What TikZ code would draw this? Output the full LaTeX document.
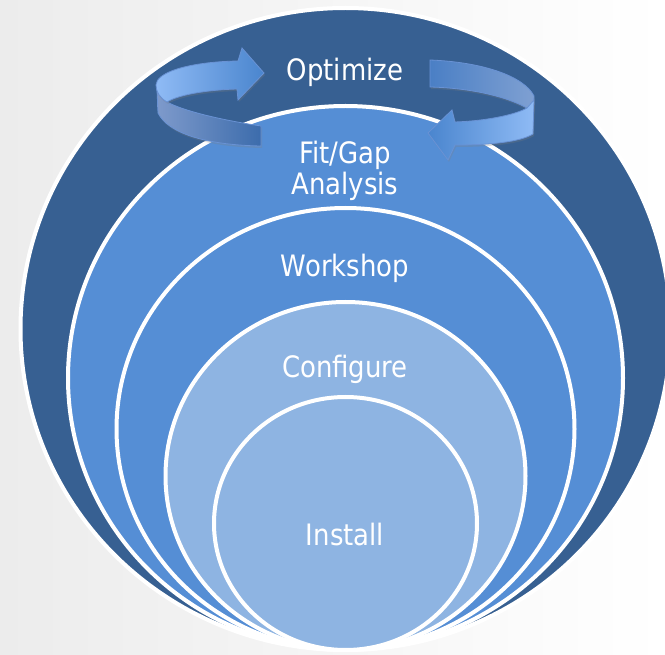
\documentclass[tikz,border=0pt]{standalone}
\usepackage{fontspec}
\setmainfont{DejaVu Sans}[FakeStretch=0.88]
\usetikzlibrary{shadows}
\definecolor{ringdark}{RGB}{55,96,146}
\definecolor{ringmid}{RGB}{85,142,213}
\definecolor{ringlight}{RGB}{142,180,226}
\definecolor{bandlight}{RGB}{143,187,245}
\definecolor{bandmid}{RGB}{74,133,206}
\definecolor{bandgrey}{RGB}{126,154,203}
\definecolor{banddark}{RGB}{60,108,172}
\definecolor{bandback}{RGB}{74,127,197}
\definecolor{bandfade}{RGB}{127,160,210}
\definecolor{bandedge}{RGB}{105,146,212}
\definecolor{paper}{RGB}{236,236,236}
\begin{document}
\begin{tikzpicture}[x=1pt,y=-1pt,
	ring/.style={draw=white,line width=4pt},
	ringtext/.style={text=white,font=\fontsize{29.5}{31}\selectfont,align=center},
	band/.style={draw=bandedge,line width=0.8pt,drop shadow={opacity=0.25,shadow xshift=1pt,shadow yshift=-2pt}}]
	\useasboundingbox (0,0) rectangle (665,655);
	\clip (0,0) rectangle (665,655);
	\fill[left color=paper,right color=white] (0,0) rectangle (665,655);
	\draw[ring,fill=ringdark] (345.5,329) ellipse [x radius=325pt,y radius=321pt];
	\draw[ring,fill=ringmid] (345.5,378) ellipse [x radius=277.5pt,y radius=272pt];
	\draw[ring,fill=ringmid] (345.5,429) ellipse [x radius=229pt,y radius=221pt];
	\draw[ring,fill=ringlight] (345.5,476) ellipse [x radius=180pt,y radius=174pt];
	\draw[ring,fill=ringlight] (345.5,523.5) ellipse [x radius=131.5pt,y radius=126.5pt];
	\node[ringtext,anchor=base] (opt) at (345,81) {Optimize};
	\node[ringtext] (fit) at (345,171) {Fit/Gap\\Analysis};
	\node[ringtext,anchor=base] (work) at (345,277) {Workshop};
	\node[ringtext,anchor=base] (conf) at (345,378) {Configure};
	\node[ringtext,anchor=base] (inst) at (345,545) {Install};
	\draw[band,left color=bandgrey,right color=banddark] (157,90) -- (158,113) .. controls (168,133) and (205,145) .. (261,146) -- (261,126) .. controls (215,119) and (182,110) .. (167,102) -- cycle;
	\draw[band,left color=bandlight,right color=bandmid] (156,85) .. controls (156,73) and (186,62) .. (238,61) -- (242,48) -- (264,73) -- (238,100) -- (237,89) .. controls (205,90) and (178,95) .. (167,102) .. controls (160,98) and (156,92) .. (156,85) -- cycle;
	\draw[band,left color=bandback,right color=bandfade] (430,60) .. controls (482,62) and (524,76) .. (534,96) -- (533,114) .. controls (531,110) and (529,109) .. (527,108) .. controls (505,96) and (470,88) .. (430,87) -- cycle;
	\draw[band,left color=bandmid,right color=bandlight] (534,100) -- (533,134) .. controls (520,142) and (490,145) .. (455,145) -- (448,160) -- (428,133) -- (452,110) -- (455,122) .. controls (485,121) and (515,115) .. (527,108) -- cycle;
\end{tikzpicture}
\end{document}
